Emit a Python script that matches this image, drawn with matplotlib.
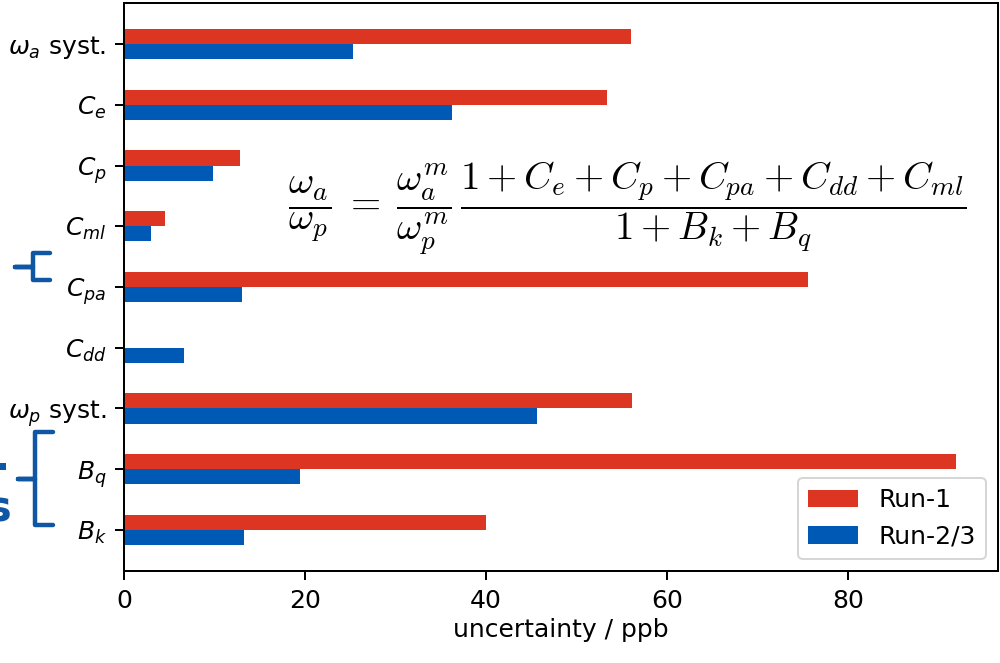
import numpy as np
import matplotlib
matplotlib.use("Agg")
import matplotlib.pyplot as plt
from matplotlib.lines import Line2D

# data, top to bottom
labels = [r'$\omega_a$ syst.', r'$C_e$', r'$C_p$', r'$C_{ml}$', r'$C_{pa}$',
          r'$C_{dd}$', r'$\omega_p$ syst.', r'$B_q$', r'$B_k$']
run1 = [56.0, 53.4, 12.8, 4.5, 75.6, 0.0, 56.1, 92.0, 40.0]
run23 = [25.3, 36.2, 9.8, 3.0, 13.0, 6.6, 45.6, 19.5, 13.3]
series_names = ['Run-1', 'Run-2/3']

red = '#dc3522'
blue = '#005ab5'
deco = '#0f57a4'

s = 1.8  # everything scaled up from the default look
plt.rcParams.update({
    'font.size': 18,
    'axes.linewidth': 0.8 * s,
    'xtick.major.width': 0.8 * s,
    'ytick.major.width': 0.8 * s,
    'xtick.major.size': 3.5 * s,
    'ytick.major.size': 3.5 * s,
    'xtick.major.pad': 3.5 * s,
    'ytick.major.pad': 3.5 * s,
})

fig = plt.figure(figsize=(10, 6.63), dpi=100)
ax = fig.add_axes([0.124, 1 - 571 / 663, 0.998 - 0.124, (571 - 3) / 663])

pos = np.arange(len(labels))[::-1]
h = 0.25
ax.barh(pos + h / 2, run1, height=h, color=red, label=series_names[0])
ax.barh(pos - h / 2, run23, height=h, color=blue, label=series_names[1])

ax.set_yticks(pos)
ax.set_yticklabels(labels)
ax.set_xlabel('uncertainty / ppb')

leg = ax.legend(loc='lower right', handlelength=2.0)
leg.get_frame().set_linewidth(0.8 * s)

eq = (r'$\dfrac{\omega_a}{\omega_p} \;=\; \dfrac{\omega_a^m}{\omega_p^m}\,'
      r'\dfrac{1+C_e+C_p+C_{pa}+C_{dd}+C_{ml}}{1+B_k+B_q}$')
fig.text(0.627, 1 - 208 / 663, eq, fontsize=28, math_fontfamily='cm',
         ha='center', va='center')


# braces and cut-off text on the left edge (from the slide around the chart)
def brace(xm, yt, yb, xtip, xarm):
    yc = (yt + yb) / 2
    xs = [xarm, xm, xm, xtip, xm, xm, xarm]
    ys = [yt, yt, yc, yc, yc, yb, yb]
    fig.add_artist(Line2D([x / 1000 for x in xs], [1 - y / 663 for y in ys],
                          transform=fig.transFigure, color=deco, lw=3.2,
                          solid_joinstyle='round', solid_capstyle='round'))


brace(33, 253, 280, 15, 50)
brace(35, 432, 525, 18, 53)

fig.text(0.009, 1 - 470 / 663, '.', color=deco, fontsize=26,
         fontweight='bold', ha='right', va='baseline')
fig.text(0.012, 1 - 522 / 663, 's', color=deco, fontsize=30,
         fontweight='bold', ha='right', va='baseline')

fig.savefig('out.png', dpi=100)
